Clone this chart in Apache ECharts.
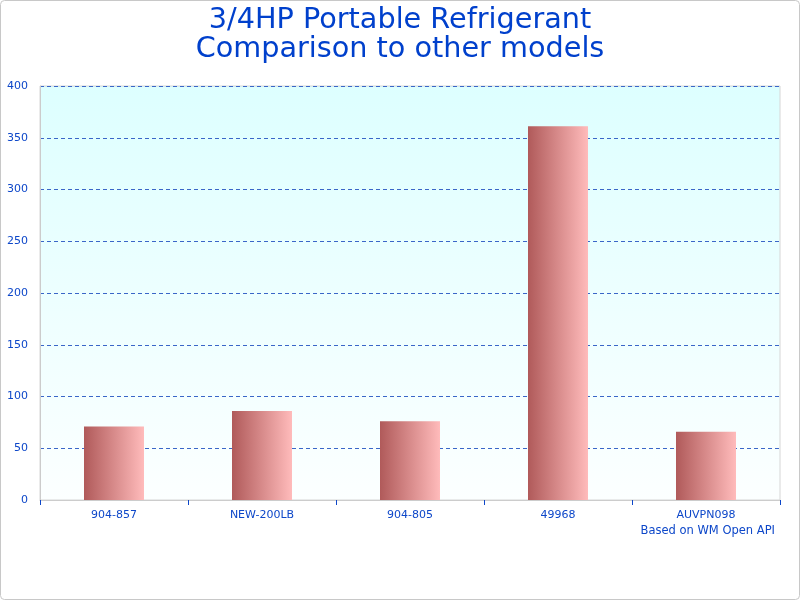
<!DOCTYPE html>
<html><head><meta charset="utf-8">
<script src="https://cdn.jsdelivr.net/npm/echarts@6/dist/echarts.min.js"></script>
<style>html,body{margin:0;padding:0;background:#fff}#c{width:800px;height:600px}</style>
</head><body><div id="c"></div>
<script>
var categories = ['904-857', 'NEW-200LB', '904-805', '49968', 'AUVPN098'];
var values = [71, 86, 76, 361, 66];
var yTicks = [0, 50, 100, 150, 200, 250, 300, 350, 400];

var chart = echarts.init(document.getElementById('c'));
var blue = '#0d47c9';
chart.setOption({
  animation: false,
  backgroundColor: '#fff',
  title: {
    text: '3/4HP Portable Refrigerant\nComparison to other models',
    left: 'center', top: 1,
    textStyle: { fontFamily: 'DejaVu Sans', fontSize: 28.7, fontWeight: 'normal', color: '#0040cc', lineHeight: 29 }
  },
  graphic: [
    { type: 'rect', shape: { x: 0.5, y: 0.5, width: 799, height: 599, r: 4 }, style: { fill: null, stroke: '#c8c8c8', lineWidth: 1 }, z: -1 },
    { type: 'text', right: 25, top: 525, style: { text: 'Based on WM Open API', font: '11.5px "DejaVu Sans"', fill: blue } }
  ],
  grid: {
    left: 40, right: 20, top: 86, bottom: 100, show: true,
    borderColor: '#d6d6d6', borderWidth: 1,
    backgroundColor: new echarts.graphic.LinearGradient(0, 0, 0, 1, [
      { offset: 0, color: '#ddffff' }, { offset: 1, color: '#fcffff' }
    ])
  },
  xAxis: {
    type: 'category', data: categories,
    axisLine: { lineStyle: { color: '#cccccc' } },
    axisTick: { show: true, length: 5, lineStyle: { color: blue } },
    axisLabel: { color: blue, fontFamily: 'DejaVu Sans', fontSize: 11, margin: 10 }
  },
  yAxis: {
    type: 'value', min: 0, max: 400, interval: 50,
    axisLine: { show: true, lineStyle: { color: '#cccccc' } },
    axisTick: { show: false },
    axisLabel: { color: blue, fontFamily: 'DejaVu Sans', fontSize: 11, margin: 12,
      formatter: function (v) { return yTicks.indexOf(v) >= 0 ? String(v) : ''; } },
    splitLine: { lineStyle: { color: '#3a66c8', type: [4, 3], width: 1 } }
  },
  series: [{
    type: 'bar', data: values, barWidth: 60,
    itemStyle: {
      color: new echarts.graphic.LinearGradient(0, 0, 1, 0, [
        { offset: 0, color: '#b05a5a' }, { offset: 1, color: '#ffbbbb' }
      ])
    }
  }]
});
</script></body></html>
